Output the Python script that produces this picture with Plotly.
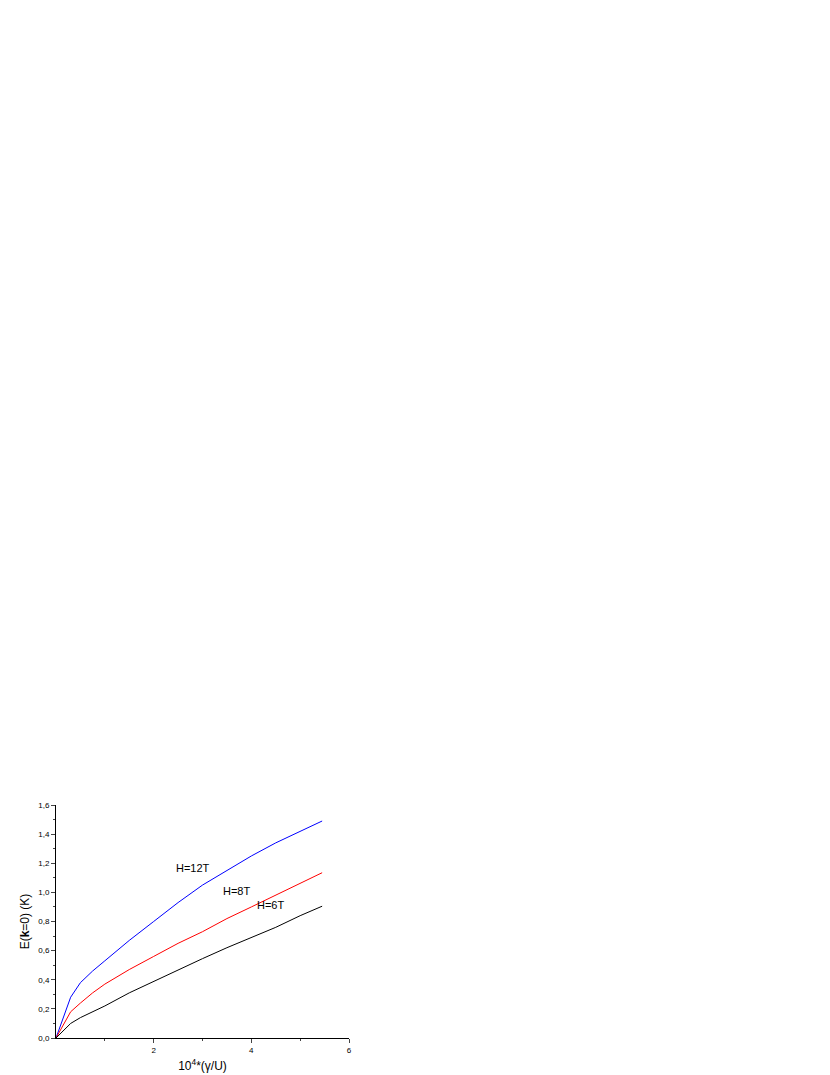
import plotly.graph_objects as go

x_vals = [0, 0.3, 0.5, 0.75, 1, 1.5, 2, 2.5, 3, 3.5, 4, 4.5, 5, 5.45]
e_12t = [0, 0.28, 0.38, 0.46, 0.53, 0.67, 0.80, 0.93, 1.05, 1.15, 1.25, 1.34, 1.42, 1.49]
e_8t = [0, 0.18, 0.24, 0.31, 0.37, 0.47, 0.56, 0.65, 0.73, 0.82, 0.90, 0.98, 1.06, 1.135]
e_6t = [0, 0.10, 0.14, 0.18, 0.22, 0.31, 0.39, 0.47, 0.545, 0.62, 0.69, 0.76, 0.84, 0.905]

fig = go.Figure()
for y, c in [(e_12t, "blue"), (e_8t, "red"), (e_6t, "black")]:
    fig.add_trace(go.Scatter(x=x_vals, y=y, mode="lines", line=dict(color=c, width=1), showlegend=False))

font = dict(family="Arial, Liberation Sans", size=11, color="black")
for txt, xx, yy in [("H=12T", 2.8, 1.17), ("H=8T", 3.7, 1.01), ("H=6T", 4.4, 0.91)]:
    fig.add_annotation(x=xx, y=yy, text=txt, showarrow=False, font=font)

fig.update_layout(
    width=830, height=1075, plot_bgcolor="white", paper_bgcolor="white",
    margin=dict(l=48, r=489, t=797, b=40), font=dict(family="Arial, Liberation Sans", size=8, color="black"),
    xaxis=dict(range=[0, 6], tickvals=[2, 4, 6], ticks="outside", ticklen=4, showline=True, linecolor="black",
               showgrid=False, zeroline=False, minor=dict(tickvals=[1, 3, 5], ticks="outside", ticklen=2),
               title=dict(text="10<sup>4</sup>*(γ/U)", font=dict(size=12), standoff=8)),
    yaxis=dict(range=[0, 1.6], tickvals=[0, 0.2, 0.4, 0.6, 0.8, 1.0, 1.2, 1.4, 1.6],
               ticktext=["0,0", "0,2", "0,4", "0,6", "0,8", "1,0", "1,2", "1,4", "1,6"],
               ticks="outside", ticklen=4, showline=True, linecolor="black", showgrid=False, zeroline=False,
               minor=dict(dtick=0.1, ticks="outside", ticklen=2),
               title=dict(text="E(<b>k</b>=0) (K)", font=dict(size=12), standoff=6)),
)
fig.write_html("out.html")
